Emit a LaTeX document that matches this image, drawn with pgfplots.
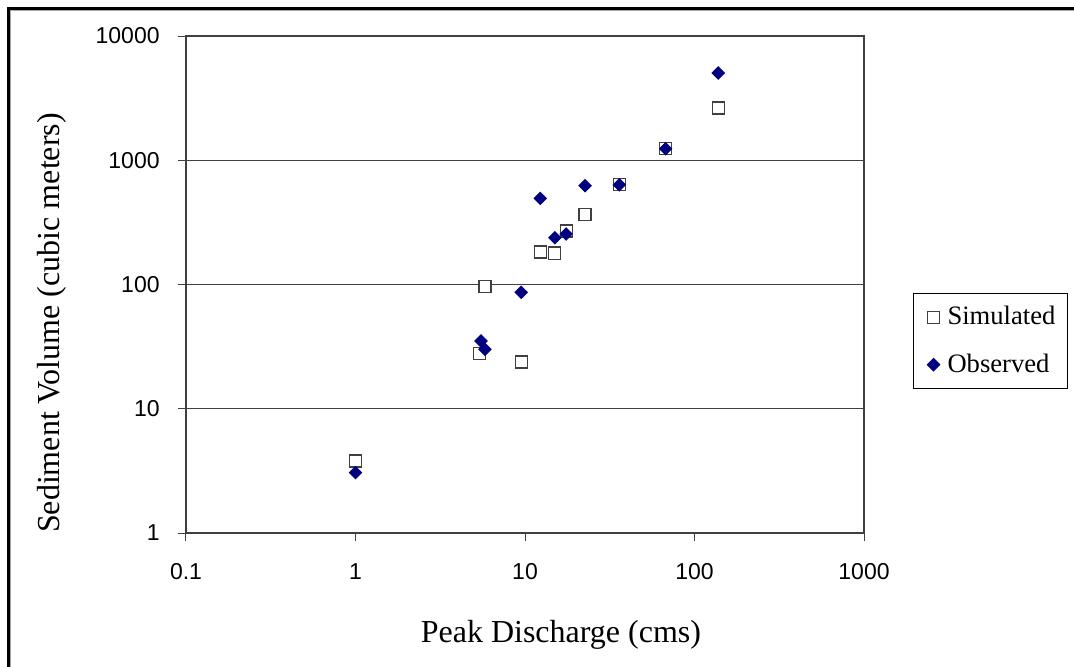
\documentclass[border=0pt]{standalone}
\usepackage{fontspec}
\setmainfont{Liberation Serif}
\setsansfont{Liberation Sans}
\usepackage{pgfplots}
\pgfplotsset{compat=1.18}
\definecolor{navy}{HTML}{000080}
\definecolor{gridgray}{HTML}{404040}
\begin{document}
\begin{tikzpicture}
\path[use as bounding box] (0,0) rectangle (537pt,333pt);
\fill[white] (0,0) rectangle (537pt,333pt);
% chart area frame (cut at right and bottom in the reference)
\draw[line width=1.3pt] (4.2pt,-2pt) -- (4.2pt,328.8pt) -- (539pt,328.8pt);
\draw[gray!70, line width=0.4pt] (5.4pt,-2pt) -- (5.4pt,327.6pt) -- (539pt,327.6pt);
\begin{axis}[
    at={(93pt,66.5pt)}, anchor=south west,
    scale only axis, width=339pt, height=248.5pt,
    xmode=log, ymode=log,
    xmin=0.1, xmax=1000, ymin=1, ymax=10000,
    xtick={0.1,1,10,100,1000}, xticklabels={0.1,1,10,100,1000},
    ytick={1,10,100,1000,10000}, yticklabels={1,10,100,1000,10000},
    xminorticks=false, yminorticks=false,
    tick align=outside, major tick length=4pt,
    xtick pos=bottom, ytick pos=left,
    tick style={gridgray, line width=0.5pt},
    ymajorgrids, grid style={gridgray, line width=0.6pt},
    axis line style={gridgray, line width=0.6pt},
    /pgf/number format/assume math mode=true,
    tick label style={font=\sffamily\fontsize{11.5}{13}\selectfont},
    yticklabel style={anchor=east, inner sep=0pt, xshift=-9pt},
    xticklabel style={anchor=north, inner sep=0pt, yshift=-11pt},
    xlabel={Peak Discharge (cms)},
    ylabel={Sediment Volume (cubic meters)},
    label style={font=\fontsize{16}{18}\selectfont},
    xlabel style={at={(axis description cs:0.553,-0.205)}, anchor=center},
    ylabel style={at={(axis description cs:-0.1976,0.4225)}, anchor=center, rotate=0},
    legend style={at={(axis description cs:1.0723,0.4829)}, anchor=north west,
        draw=black, line width=0.5pt, font=\fontsize{13.3}{15}\selectfont,
        row sep=9pt, inner xsep=4pt, inner ysep=4.5pt},
    legend cell align=left,
    legend image code/.code={\path[draw=none, fill=none] (0pt,0pt) -- (11pt,0pt);
        \draw[#1] plot coordinates {(6pt,0pt)};},
]
\addplot[only marks, mark=square*, mark size=3pt,
    mark options={draw=gridgray, fill=white, line width=0.6pt}]
    coordinates {
    (1,3.8) (5.4,27.9) (5.8,96) (9.5,23.8) (12.3,183) (15,179)
    (17.5,270) (22.6,365) (36,635) (67.6,1238) (138,2630)
};
\addlegendentry{Simulated}
\addplot[only marks, mark=square*, mark size=2.2pt,
    mark options={draw=navy, fill=navy, rotate=45}]
    coordinates {
    (1,3.06) (5.5,35.1) (5.8,30.1) (9.5,86.6) (12.3,494) (15,238)
    (17.5,255) (22.6,624) (36,635) (67.6,1238) (138,5040)
};
\addlegendentry{Observed}
\end{axis}
\end{tikzpicture}
\end{document}
